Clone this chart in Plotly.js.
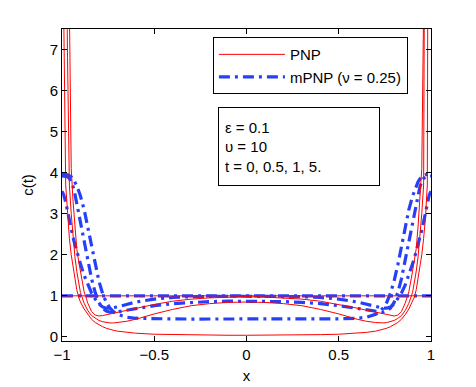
<!DOCTYPE html>
<html>
<head>
<meta charset="utf-8">
<script src="https://cdn.plot.ly/plotly-3.0.1.min.js"></script>
<style>
  html, body { margin: 0; padding: 0; background: #fff; }
  #chart { width: 476px; height: 387px; }
</style>
</head>
<body>
<div id="chart"></div>
<script>
// shared x grid (denser near the walls)
var xs = [-1,-0.99,-0.98,-0.97,-0.96,-0.95,-0.94,-0.93,-0.92,-0.91,-0.9,-0.88,-0.86,-0.84,-0.82,-0.8,-0.78,-0.76,-0.74,-0.72,-0.7,-0.65,-0.6,-0.5,-0.4,-0.3,-0.2,-0.1,
          0,0.1,0.2,0.3,0.4,0.5,0.6,0.65,0.7,0.72,0.74,0.76,0.78,0.8,0.82,0.84,0.86,0.88,0.9,0.91,0.92,0.93,0.94,0.95,0.96,0.97,0.98,0.99,1]

// t = 0 initial state (both models)
var xFlat = [-1, 1]
var cFlat = [1, 1]

// PNP, t = 0.5, 1, 5
var pnp05 = [80,40,20,12,8.0,4.1,3.3,2.7,2.15,1.85,1.6,1.1,0.82,0.62,0.53,0.51,0.52,0.54,0.56,0.58,0.6,0.65,0.7,0.79,0.87,0.92,0.95,0.97,
             0.98,0.97,0.95,0.92,0.87,0.79,0.7,0.65,0.6,0.58,0.56,0.54,0.52,0.51,0.53,0.62,0.82,1.1,1.6,1.85,2.15,2.7,3.3,4.1,8.0,12,20,40,80]
var pnp1 = [50,20,11,6.8,3.7,3.0,2.45,1.95,1.6,1.3,1.08,0.82,0.64,0.52,0.45,0.4,0.37,0.35,0.34,0.34,0.35,0.38,0.43,0.56,0.67,0.76,0.81,0.84,
            0.85,0.84,0.81,0.76,0.67,0.56,0.43,0.38,0.35,0.34,0.34,0.35,0.37,0.4,0.45,0.52,0.64,0.82,1.08,1.3,1.6,1.95,2.45,3.0,3.7,6.8,11,20,50]
var pnp5 = [40,7.6,3.7,2.9,2.4,2.0,1.7,1.4,1.15,0.97,0.85,0.68,0.54,0.43,0.35,0.29,0.25,0.21,0.18,0.16,0.14,0.11,0.09,0.065,0.055,0.05,0.045,0.04,
            0.04,0.04,0.045,0.05,0.055,0.065,0.09,0.11,0.14,0.16,0.18,0.21,0.25,0.29,0.35,0.43,0.54,0.68,0.85,0.97,1.15,1.4,1.7,2.0,2.4,2.9,3.7,7.6,40]

// mPNP (nu = 0.25), t = 0.5, 1, 5
var mpnp05 = [3.55,3.45,3.28,3.05,2.8,2.6,2.42,2.25,2.08,1.92,1.78,1.5,1.26,1.07,0.92,0.8,0.73,0.7,0.7,0.71,0.73,0.79,0.85,0.92,0.96,0.98,0.99,0.99,
              0.99,0.99,0.99,0.98,0.96,0.92,0.85,0.79,0.73,0.71,0.7,0.7,0.73,0.8,0.92,1.07,1.26,1.5,1.78,1.92,2.08,2.25,2.42,2.6,2.8,3.05,3.28,3.45,3.55]
var mpnp1 = [3.92,3.92,3.91,3.9,3.86,3.78,3.66,3.48,3.25,3.0,2.76,2.32,1.86,1.42,1.08,0.84,0.7,0.63,0.6,0.6,0.61,0.65,0.69,0.76,0.81,0.84,0.86,0.87,
             0.87,0.87,0.86,0.84,0.81,0.76,0.69,0.65,0.61,0.6,0.6,0.63,0.7,0.84,1.08,1.42,1.86,2.32,2.76,3.0,3.25,3.48,3.66,3.78,3.86,3.9,3.91,3.92,3.92]
var mpnp5 = [3.97,3.97,3.96,3.95,3.93,3.9,3.85,3.78,3.68,3.56,3.43,3.1,2.68,2.2,1.75,1.36,1.06,0.84,0.7,0.61,0.55,0.48,0.455,0.44,0.437,0.435,0.435,0.435,
             0.435,0.435,0.435,0.435,0.437,0.44,0.455,0.48,0.55,0.61,0.7,0.84,1.06,1.36,1.75,2.2,2.68,3.1,3.43,3.56,3.68,3.78,3.85,3.9,3.93,3.95,3.96,3.97,3.97]

var xTicks = [-1, -0.5, 0, 0.5, 1]
var xTickText = ['\u22121', '\u22120.5', '0', '0.5', '1']
var yTicks = [0, 1, 2, 3, 4, 5, 6, 7]

var red = 'rgb(255,0,0)'
var blue = 'rgb(38,64,250)'
var blueDash = '11px,5px,3px,5px'

function redLine(y, show) {
    return {x: xs, y: y, type: 'scatter', mode: 'lines', name: 'PNP',
            showlegend: show, legendrank: 1, legendgroup: 'pnp', hoverinfo: 'skip',
            line: {color: red, width: 1}}
}
function blueLine(y, show) {
    return {x: xs, y: y, type: 'scatter', mode: 'lines', name: 'mPNP (\u03bd = 0.25)',
            showlegend: show, legendrank: 2, legendgroup: 'mpnp', hoverinfo: 'skip',
            line: {color: blue, width: 3.2, dash: blueDash}}
}

var flatBlue = blueLine(cFlat, true)
flatBlue.x = xFlat
var flatRed = redLine(cFlat, false)
flatRed.x = xFlat

// blue drawn first so the thin red curves sit on top
var data = [
    flatBlue, blueLine(mpnp05, false), blueLine(mpnp1, false), blueLine(mpnp5, false),
    redLine(pnp05, true), redLine(pnp1, false), redLine(pnp5, false), flatRed
]

var font = {family: 'Liberation Sans, Arial, Helvetica, sans-serif', size: 15, color: '#000'}

var layout = {
    width: 476, height: 387,
    margin: {l: 62, r: 45, t: 29, b: 46},
    paper_bgcolor: '#fff', plot_bgcolor: '#fff',
    font: font,
    showlegend: true,
    xaxis: {
        range: [-1, 1], tickvals: xTicks, ticktext: xTickText,
        ticks: 'inside', ticklen: 5, tickcolor: '#000', mirror: 'allticks',
        showline: true, linecolor: '#000', linewidth: 1,
        showgrid: false, zeroline: false,
        title: {text: 'x', font: font, standoff: 8}
    },
    yaxis: {
        range: [-0.1, 7.5], tickvals: yTicks,
        ticks: 'inside', ticklen: 5, tickcolor: '#000', mirror: 'allticks',
        showline: true, linecolor: '#000', linewidth: 1,
        showgrid: false, zeroline: false,
        title: {text: 'c(t)', font: font, standoff: 12}
    },
    legend: {
        x: 0.409, y: 0.974, xanchor: 'left', yanchor: 'top',
        bgcolor: '#fff', bordercolor: '#000', borderwidth: 1,
        font: font, itemwidth: 66, traceorder: 'grouped', tracegroupgap: 0
    },
    annotations: [{
        xref: 'paper', yref: 'paper', x: 0.423, y: 0.75,
        xanchor: 'left', yanchor: 'top', showarrow: false, align: 'left',
        text: '\u03b5 = 0.1<br>\u03c5 = 10<br>t = 0, 0.5, 1, 5.',
        font: font, bgcolor: '#fff', bordercolor: '#000', borderwidth: 1,
        borderpad: 6, width: 148, height: 65
    }]
}

Plotly.newPlot('chart', data, layout, {displayModeBar: false, staticPlot: true})
</script>
</body>
</html>
